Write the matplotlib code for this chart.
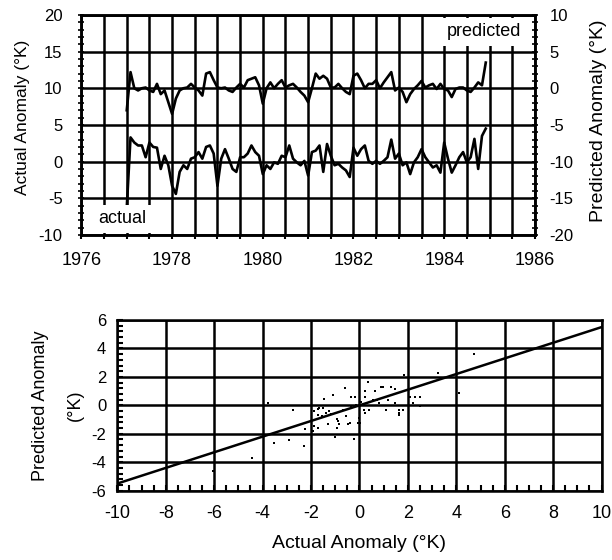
import numpy as np
import matplotlib.pyplot as plt
from matplotlib.ticker import MultipleLocator

plt.rcParams['font.family'] = ['Liberation Sans', 'DejaVu Sans']
plt.rcParams['font.size'] = 13
plt.rcParams['axes.unicode_minus'] = False

# monthly anomalies (deg K), starting Jan 1977
start_year = 1977
actual = [-6.3, 3.3, 2.6, 2.2, 2.2, 0.6, 2.6, 2.0, 1.9, -1.0, 0.8, -0.5,
          -3.3, -4.4, -1.4, -0.5, -1.0, 0.4, 0.6, 1.3, 0.4, 2.0, 2.2, 1.1,
          -3.3, 0.4, 1.7, 0.4, -1.0, -1.4, 0.6, 0.6, 1.1, 2.2, 1.3, 0.8,
          -1.7, -0.5, -1.0, -0.1, -0.3, 0.8, 0.6, 2.2, 0.4, -0.1, -0.5, 0.1,
          -1.9, 1.3, 1.5, 2.2, -1.4, 2.4, 0.8, -0.5, -0.3, -0.8, -1.2, -2.1,
          1.9, 0.8, 1.7, 2.2, 0.1, -0.3, 0.1, -0.3, 0.1, 0.6, 3.0, 0.4,
          1.1, -0.5, -0.1, -1.7, -0.1, 0.6, 1.7, 0.6, -0.1, -0.8, -0.5, -1.5,
          2.6, 0.4, -1.5, -0.5, 0.6, 1.3, -0.1, 0.6, 3.1, -1.0, 3.5, 4.5]
predicted = [-3.0, 2.2, 0.0, -0.3, 0.0, 0.1, -0.3, -0.5, 0.6, -0.8, -0.3, -1.9,
             -3.5, -1.4, -0.3, 0.0, 0.1, 0.6, 0.1, -0.3, -1.0, 2.0, 2.2, 1.1,
             0.1, 0.0, 0.1, -0.3, -0.5, 0.1, 0.6, 0.1, 1.1, 1.3, 1.5, 0.4,
             -2.1, 0.0, 0.8, 0.0, 0.6, 1.1, 0.1, 0.4, 0.6, 0.1, -0.5, -1.0,
             -1.9, 0.0, 2.0, 1.3, 1.7, 1.3, 0.1, 0.1, 0.6, 0.0, -0.5, -0.8,
             1.7, 2.0, 1.1, 0.0, 0.6, 0.6, 1.1, 0.0, 0.8, 1.5, 2.2, -0.3,
             0.1, -0.5, -1.9, -0.8, -0.1, 0.4, 1.0, 0.1, 0.4, 0.6, -0.1, 0.6,
             -0.1, -0.3, -1.2, -0.1, 0.1, 0.1, -0.3, -0.5, 0.1, 0.8, 0.4, 3.5]

# scatter points
sc_actual = [1.82, -3.79, -2.76, -3.52, -2.92, -2.28, -4.44, -1.03, -0.23, -0.58,
             0.34, -1.45, -1.10, -0.34, -0.17, 0.21, 0.21, 0.66, 0.90, 0.97,
             1.31, 1.45, 0.55, 0.72, 0.80, 1.17, 1.45, 2.07, 2.28, 2.51,
             2.23, 2.51, 1.10, 1.63, 1.63, 1.63, 1.79, 0.18, 0.39, 0.21,
             -0.03, 0.01, -0.07, -1.72, -1.66, -1.52, -1.86, -1.38, -1.17, -1.24,
             -0.94, -0.90, -0.86, -0.94, -0.48, -0.41, -0.55, -0.69, -1.31, -1.72,
             -1.86, -1.93, -2.23, -0.14, 4.71, 3.24, 4.13, -6.03, -1.70, -1.55,
             0.05, -0.35]
sc_pred = [2.11, 0.16, -0.30, -2.67, -2.44, -2.85, -3.70, -2.25, -2.39, 1.20,
           1.61, 0.44, 0.74, 0.62, 0.62, 1.01, 0.62, 1.03, 1.31, 1.31,
           1.31, 1.15, 0.39, 0.39, 0.16, 0.39, 0.16, 0.62, 0.62, 0.62,
           0.16, -0.07, -0.30, -0.30, -0.53, -0.69, -0.30, -0.30, -0.30, -0.53,
           -0.87, -1.22, -1.26, -0.23, -0.18, -0.18, -0.41, -0.53, -0.64, -0.41,
           -0.99, -1.10, -1.33, -1.56, -1.33, -1.22, -0.76, -0.30, -1.33, -1.56,
           -1.45, -1.79, -1.68, 0.05, 3.59, 2.30, 0.85, -4.60, -0.70, -0.75,
           0.25, -0.10]

# regression line
fit_slope = 0.55
fit_x = np.array([-10, 10])

years = start_year + np.arange(len(actual)) / 12.0

fig = plt.figure(figsize=(6.12, 5.6), dpi=100)

# ---- top panel: time series
ax1 = fig.add_axes([0.133, 0.5804, 0.741, 0.393])
ax2 = ax1.twinx()

ax1.plot(years, actual, color='black', lw=1.9, zorder=3)
ax2.plot(years, predicted, color='black', lw=1.9, zorder=3)

ax1.set_xlim(1976, 1986)
ax1.set_ylim(-10, 20)
ax2.set_ylim(-20, 10)
ax1.xaxis.set_major_locator(MultipleLocator(2))
ax1.xaxis.set_minor_locator(MultipleLocator(0.5))
ax1.yaxis.set_major_locator(MultipleLocator(5))
ax1.yaxis.set_minor_locator(MultipleLocator(1))
ax2.yaxis.set_major_locator(MultipleLocator(5))
ax2.yaxis.set_minor_locator(MultipleLocator(1))
ax1.grid(True, which='major', color='black', lw=1.8)
ax1.grid(True, which='minor', axis='x', color='black', lw=1.8)
ax1.tick_params(axis='x', which='both', direction='out', length=3, width=1.5, pad=9, labelsize=13)
ax1.tick_params(axis='y', which='both', direction='inout', length=5, width=1.2, pad=11, labelsize=12)
ax2.tick_params(axis='y', which='both', direction='inout', length=5, width=1.2, pad=8, labelsize=12)
for ax in (ax1, ax2):
    for s in ax.spines.values():
        s.set_linewidth(1.8)

ax1.set_ylabel('Actual Anomaly (°K)', fontsize=12.5)
ax1.yaxis.set_label_coords(-0.1136, 0.536)
ax2.set_ylabel('Predicted Anomaly (°K)', fontsize=14)
ax2.yaxis.set_label_coords(1.122, 0.518)

ax1.text(1976.9, -7.8, 'actual', ha='center', va='center', fontsize=13, zorder=5,
         bbox=dict(facecolor='white', edgecolor='none', pad=4))
ax1.text(1984.87, 17.7, 'predicted', ha='center', va='center', fontsize=13, zorder=5,
         bbox=dict(facecolor='white', edgecolor='none', pad=4))

# ---- bottom panel: scatter
ax3 = fig.add_axes([0.1917, 0.1238, 0.7913, 0.3048])
ax3.scatter(sc_actual, sc_pred, s=4, color='black', marker='s', lw=0, zorder=3)
ax3.plot(fit_x, fit_slope * fit_x, color='black', lw=1.8, zorder=3)
ax3.set_xlim(-10, 10)
ax3.set_ylim(-6, 6)
ax3.xaxis.set_major_locator(MultipleLocator(2))
ax3.xaxis.set_minor_locator(MultipleLocator(0.5))
ax3.yaxis.set_major_locator(MultipleLocator(2))
ax3.yaxis.set_minor_locator(MultipleLocator(0.4))
ax3.grid(True, which='major', color='black', lw=1.8)
ax3.tick_params(which='both', direction='in', length=4, width=1.5)
ax3.tick_params(axis='x', pad=10, labelsize=13)
ax3.tick_params(axis='y', pad=8, labelsize=12)
for s in ax3.spines.values():
    s.set_linewidth(1.8)
ax3.set_xlabel('Actual Anomaly (°K)', fontsize=14)
ax3.xaxis.set_label_coords(0.5, -0.26)

fig.text(0.066, 0.276, 'Predicted Anomaly', rotation=90, ha='center', va='center', fontsize=13)
fig.text(0.123, 0.276, '(°K)', rotation=90, ha='center', va='center', fontsize=13)

fig.savefig('out.png', dpi=100)
